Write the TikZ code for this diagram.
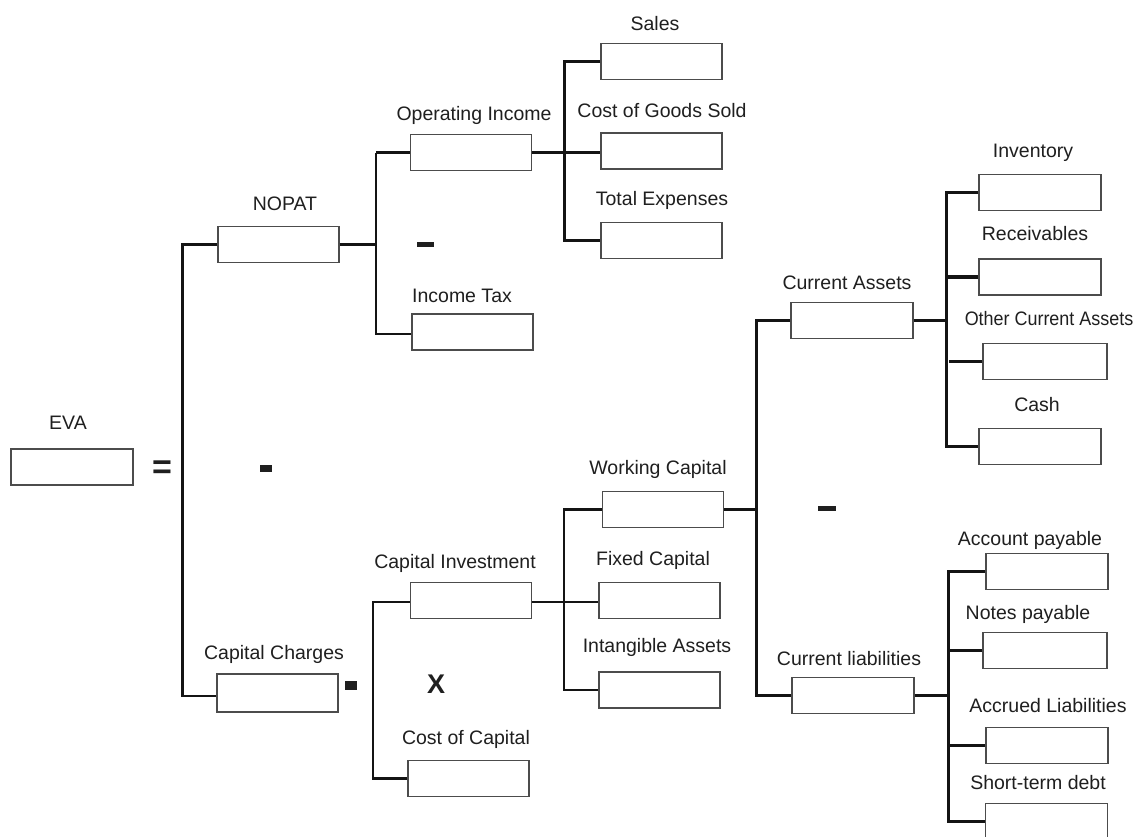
\documentclass[tikz,border=0pt]{standalone}
\usepackage{fontspec}
\setmainfont{Liberation Sans}
\usetikzlibrary{calc}
\begin{document}
\begin{tikzpicture}[x=1pt,y=-1pt,
  box/.style={draw=black!70, line width=1.2pt, fill=white, minimum width=121pt, minimum height=36pt, inner sep=0pt},
  lbl/.style={anchor=base, inner sep=0pt, text=black!88, font=\fontsize{19.5}{22}\selectfont},
  wire/.style={line width=2.2pt, black!92},
  heavy/.style={line width=3.8pt, black!92},
  bar/.style={fill=black!88, draw=none},
  sign/.style={inner sep=0pt, text=black!88}]
\fill[white] (0,0) rectangle (1140,836);
\useasboundingbox (0,0) rectangle (1140,836);

% ---- boxes ----
\node[box, minimum width=122pt] (eva)   at (72,467) {};
\node[box] (nopat) at (278.5,244.5) {};
\node[box] (oi)    at (471,152.5) {};
\node[box] (tax)   at (472.5,332) {};
\node[box] (sales) at (661.5,61.5) {};
\node[box] (cogs)  at (661.5,151) {};
\node[box] (texp)  at (661.5,240.5) {};
\node[box, minimum height=38pt] (cc) at (277.5,693) {};
\node[box] (ci)    at (471,600.5) {};
\node[box] (coc)   at (468.5,778.5) {};
\node[box] (wc)    at (663,509.5) {};
\node[box] (fc)    at (659.5,600.5) {};
\node[box] (ia)    at (659.5,690) {};
\node[box, minimum width=122pt] (ca) at (852,320.5) {};
\node[box, minimum width=122pt] (cl) at (853,695.5) {};
\node[box, minimum width=122pt] (inv)  at (1040,192.5) {};
\node[box, minimum width=122pt] (rec)  at (1040,277) {};
\node[box, minimum width=124pt] (oca)  at (1045,361.5) {};
\node[box, minimum width=122pt] (cash) at (1040,446.5) {};
\node[box, minimum width=122pt] (ap)   at (1047,571.5) {};
\node[box, minimum width=124pt] (np)   at (1045,650.5) {};
\node[box, minimum width=122pt] (al)   at (1047,745.5) {};
\node[box, minimum width=122pt] (std)  at (1046.5,821.5) {};

% ---- labels ----
\node[lbl] (teva)   at (68,429)   {EVA};
\node[lbl] (tnopat) at (285,210)  {NOPAT};
\node[lbl] (toi)    at (474,120)  {Operating Income};
\node[lbl] (ttax)   at (462,302)  {Income Tax};
\node[lbl] (tsales) at (655,30)   {Sales};
\node[lbl] (tcogs)  at (662,117)  {Cost of Goods Sold};
\node[lbl] (ttexp)  at (662,205)  {Total Expenses};
\node[lbl] (tcc)    at (274,659)  {Capital Charges};
\node[lbl] (tci)    at (455,568)  {Capital Investment};
\node[lbl] (tcoc)   at (466,744)  {Cost of Capital};
\node[lbl] (twc)    at (658,474)  {Working Capital};
\node[lbl] (tfc)    at (653,565)  {Fixed Capital};
\node[lbl] (tia)    at (657,652)  {Intangible Assets};
\node[lbl] (tca)    at (847,289)  {Current Assets};
\node[lbl] (tcl)    at (849,665)  {Current liabilities};
\node[lbl] (tinv)   at (1033,157) {Inventory};
\node[lbl] (trec)   at (1035,240) {Receivables};
\node[lbl] (toca)   at (1049,325) {\scalebox{0.92}[1]{Other Current Assets}};
\node[lbl] (tcash)  at (1037,411) {Cash};
\node[lbl] (tap)    at (1030,545) {Account payable};
\node[lbl] (tnp)    at (1028,619) {Notes payable};
\node[lbl] (tal)    at (1048,712) {Accrued Liabilities};
\node[lbl] (tstd)   at (1038,789) {Short-term debt};

% ---- operators ----
\node[sign, font=\fontsize{34}{36}\selectfont\bfseries] (eq) at (162,470) {=};
\node[sign, font=\fontsize{27}{30}\selectfont\bfseries] (times) at (436,684) {X};
\fill[bar] (260,465) rectangle (272,472);
\fill[bar] (417,242) rectangle (434,247);
\fill[bar] (345,681) rectangle (357,690);
\fill[bar] (818,506) rectangle (836,511);

% ---- connectors ----
% EVA = NOPAT - Capital Charges
\draw[wire] (nopat.west) -- ++(-35,0) |- ($(cc.west)+(0,3)$);
% NOPAT = Operating Income - Income Tax
\draw[wire] (oi.west) ++(-34,0) coordinate (b2) |- ($(tax.west)+(0,2)$);
\draw[heavy] (oi.west) -- (b2);
\draw[wire] (nopat.east) -- (b2 |- nopat.east);
% Operating Income
\draw[wire] (sales.west) -- ++(-36,0) |- (texp.west);
\draw[heavy] (oi.east) -- (oi.east -| cogs.west);
% Capital Charges = Capital Investment x Cost of Capital
\draw[wire] ($(ci.west)+(0,1.5)$) -- ++(-37,0) |- (coc.west);
\draw[heavy] (coc.west) -- ++(-35,0);
% Capital Investment
\draw[wire] (wc.west) -- ++(-38,0) |- (ia.west);
\draw[wire] ($(ci.east)+(0,1.5)$) -- ($(fc.west)+(0,1.5)$);
% Working Capital = Current Assets - Current liabilities
\draw[wire] (ca.west) -- ++(-34,0) coordinate (b6) |- (cl.west);
\draw[wire] (wc.east) -- (b6 |- wc.east);
% Current Assets
\draw[wire] (inv.west) -- ++(-32,0) coordinate (b7) |- (cash.west);
\draw[heavy] (rec.west) -- (b7 |- rec.west);
\draw[wire] (oca.west) -- ++(-33,0);
\draw[wire] (ca.east) -- (b7 |- ca.east);
% Current liabilities
\draw[wire] (ap.west) -- ++(-37,0) coordinate (b8) |- (std.west);
\draw[wire] (np.west) -- (b8 |- np.west);
\draw[wire] (al.west) -- (b8 |- al.west);
\draw[wire] (cl.east) -- (b8 |- cl.east);
\end{tikzpicture}
\end{document}
